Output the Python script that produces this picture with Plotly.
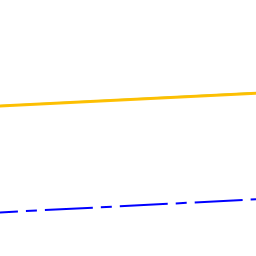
import plotly.graph_objects as go

x_vals = [0, 1]
gold_series = [148.5, 162.8]
green_series = [148.7, 163.2]
blue_series = [42.06, 56.7]

fig = go.Figure()
fig.add_trace(go.Scatter(x=x_vals, y=green_series, mode="lines",
                         line=dict(color="#9ACD32", width=1.5), showlegend=False))
fig.add_trace(go.Scatter(x=x_vals, y=gold_series, mode="lines",
                         line=dict(color="#FFBF00", width=3), opacity=0.97, showlegend=False))
fig.add_trace(go.Scatter(x=x_vals, y=blue_series, mode="lines",
                         line=dict(color="#0000FF", width=2, dash="48px,8px,11px,8px"),
                         showlegend=False))

fig.update_layout(
    width=256, height=256,
    margin=dict(l=0, r=0, t=0, b=0),
    paper_bgcolor="white", plot_bgcolor="white",
    xaxis=dict(visible=False, range=[30 / 286, 1]),
    yaxis=dict(visible=False, range=[0, 256]),
)
fig.write_html("out.html")
